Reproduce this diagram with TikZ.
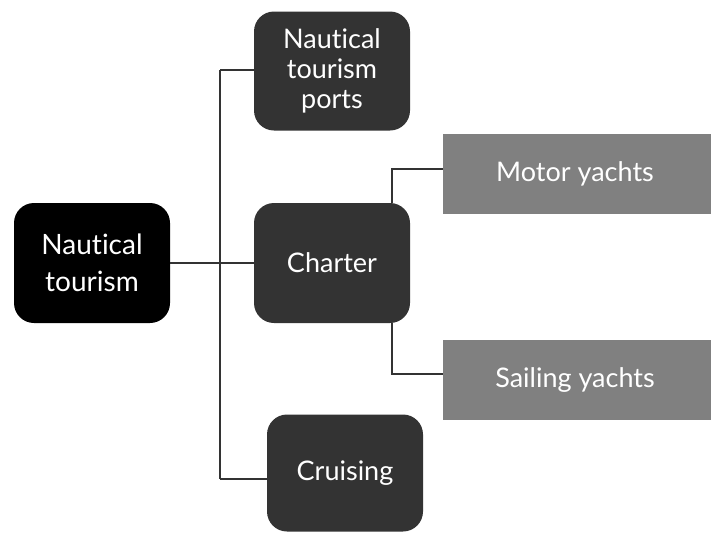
\documentclass[tikz,border=0pt]{standalone}
\usepackage{fontspec}
\setmainfont{Lato}[Ligatures={NoCommon}]
\begin{document}
\begin{tikzpicture}[x=1pt,y=-1pt,
  rootbox/.style={fill=black,rounded corners=20pt,text=white,minimum width=156pt,minimum height=120pt,align=center,font=\fontsize{28}{37}\selectfont,inner sep=0pt},
  midbox/.style={fill=black!80,rounded corners=20pt,text=white,minimum width=156pt,minimum height=119pt,align=center,font=\fontsize{27}{30}\selectfont,inner sep=0pt},
  leafbox/.style={fill=black!50,text=white,minimum width=268pt,minimum height=80pt,align=center,font=\fontsize{27}{33}\selectfont,inner sep=0pt},
  conn/.style={draw=black!80,line width=1.8pt}]
\useasboundingbox (0,0) rectangle (711,533);
\node[rootbox] (root) at (92,263) {Nautical\\tourism};
\node[midbox] (ports) at (332,71) {Nautical\\tourism\\ports};
\node[midbox,minimum height=120pt] (charter) at (332,263) {Charter};
\node[midbox,minimum height=117pt] (cruising) at (345,473) {Cruising};
\node[leafbox] (motor) at (577,174) {\hspace*{-4pt}Motor yachts};
\node[leafbox] (sailing) at (577,380) {\hspace*{-4pt}Sailing yachts};
\coordinate (tTop) at (220,70);
\coordinate (tBot) at (220,479);
\coordinate (cm) at (392,169);
\coordinate (cs) at (392,374);
\draw[conn] (tTop) -- (tBot);
\draw[conn] (root.east) -- (charter.west);
\draw[conn] (tTop) -- (tTop -| ports.west);
\draw[conn] (tBot) -- (tBot -| cruising.west);
\draw[conn] (cm |- charter.north) -- (cm) -- (cm -| motor.west);
\draw[conn] (cs |- charter.south) -- (cs) -- (cs -| sailing.west);
\end{tikzpicture}
\end{document}
